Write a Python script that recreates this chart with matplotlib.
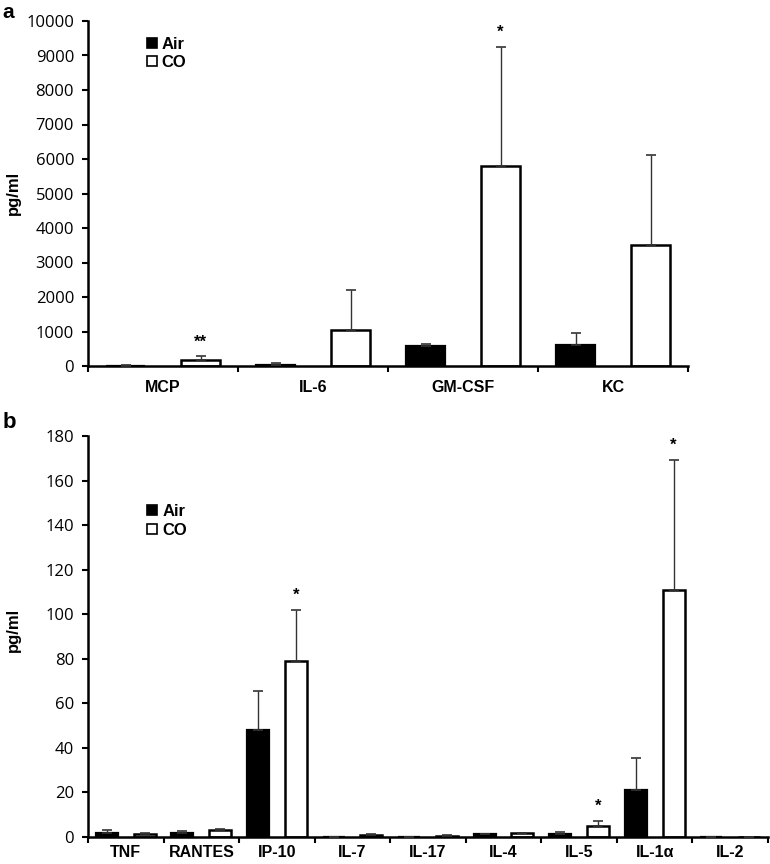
import numpy as np
import matplotlib
matplotlib.use("Agg")
import matplotlib.pyplot as plt
from matplotlib.lines import Line2D

# ---------------- data ----------------
cats_a = ["MCP", "IL-6", "GM-CSF", "KC"]
air_a = [10, 40, 570, 600]
air_a_err = [5, 50, 60, 350]
co_a = [185, 1035, 5800, 3520]
co_a_err = [95, 1165, 3450, 2590]
stars_a = ["**", "", "*", ""]          # significance marks over CO bars

cats_b = ["TNF", "RANTES", "IP-10", "IL-7", "IL-17", "IL-4", "IL-5", "IL-1α", "IL-2"]
air_b = [2.0, 2.0, 48.2, 0.2, 0.2, 1.5, 1.5, 21.2, 0.1]
air_b_err = [1.3, 0.5, 17.3, 0.0, 0.0, 0.0, 0.8, 14.3, 0.0]
co_b = [1.5, 3.0, 79.1, 1.0, 0.5, 1.8, 4.8, 110.8, 0.1]
co_b_err = [0.5, 0.8, 22.8, 0.3, 0.2, 0.0, 2.6, 58.5, 0.0]
stars_b = ["", "", "*", "", "", "", "*", "*", ""]

yticks_a = list(range(0, 10001, 1000))
yticks_b = list(range(0, 181, 20))

# ---------------- style ----------------
W, H = 770, 864
fig = plt.figure(figsize=(W / 100, H / 100), dpi=100)

LBL_FONT = "Liberation Sans"
TICK_FONT = "Open Sans"


def panel(ax, cats, air, air_err, co, co_err, stars, yticks, ymax, width,
          legend_xy, label_pad):
    n = len(cats)
    x_air = np.arange(n) * 2
    x_co = x_air + 1
    ax.bar(x_air, air, width=width, color="black", edgecolor="black",
           linewidth=1.6, zorder=2)
    ax.bar(x_co, co, width=width, color="white", edgecolor="black",
           linewidth=1.8, zorder=2)
    ek = dict(fmt="none", ecolor="#333333", elinewidth=1.0, capsize=3.5,
              capthick=1.2, zorder=3)
    ax.errorbar(x_air, air, yerr=[np.zeros(n), air_err], **ek)
    ax.errorbar(x_co, co, yerr=[np.zeros(n), co_err], **ek)
    for xi, v, e, s in zip(x_co, co, co_err, stars):
        if s:
            ax.annotate(s, (xi, v + e), xytext=(0, 7), textcoords="offset pixels",
                        ha="center", va="bottom", fontsize=12, fontweight="bold",
                        family=LBL_FONT)
    ax.set_xlim(-0.5, 2 * n - 0.5)
    ax.set_ylim(0, ymax)
    ax.set_yticks(yticks)
    ax.set_yticklabels([str(t) for t in yticks], family=TICK_FONT, fontsize=12)
    # category labels at group centres (no tick mark)
    ax.set_xticks(x_air + 0.5)
    ax.set_xticklabels(cats, family=LBL_FONT, fontweight="bold", fontsize=11.5)
    ax.tick_params(axis="x", which="major", length=0, pad=label_pad)
    # tick marks at slot boundaries
    ax.set_xticks(np.arange(-0.5, 2 * n, 1.0), minor=True)
    ax.tick_params(axis="x", which="minor", direction="out", length=4, width=1.5)
    ax.tick_params(axis="y", direction="out", length=4, width=1.5, pad=6)
    for sp in ["top", "right"]:
        ax.spines[sp].set_visible(False)
    for sp in ["left", "bottom"]:
        ax.spines[sp].set_linewidth(1.8)
    handles = [Line2D([], [], marker="s", linestyle="none", markersize=7,
                      markerfacecolor="black", markeredgecolor="black",
                      markeredgewidth=1.2),
               Line2D([], [], marker="s", linestyle="none", markersize=7,
                      markerfacecolor="white", markeredgecolor="black",
                      markeredgewidth=1.2)]
    ax.legend(handles, ["Air", "CO"], loc="upper left", bbox_to_anchor=legend_xy,
              frameon=False, handlelength=0.8, handletextpad=0.2,
              labelspacing=0.2, borderpad=0, borderaxespad=0,
              prop={"family": LBL_FONT, "weight": "bold", "size": 12})


# panel a: axes from x=88..688, y=21..366 px
ax_a = fig.add_axes([88 / W, 1 - 366 / H, 600 / W, 345 / H])
panel(ax_a, cats_a, air_a, air_a_err, co_a, co_a_err, stars_a, yticks_a, 10000,
      0.52, (0.095, 0.955), 10)

# panel b: axes from x=88..768, y=436..837 px
ax_b = fig.add_axes([88 / W, 1 - 837 / H, 680 / W, 401 / H])
panel(ax_b, cats_b, air_b, air_b_err, co_b, co_b_err, stars_b, yticks_b, 180,
      0.58, (0.085, 0.83), 6)

fig.text(13 / W, 1 - 193 / H, "pg/ml", rotation=90, ha="center", va="center",
         family=LBL_FONT, fontweight="bold", fontsize=12)
fig.text(13 / W, 1 - 630 / H, "pg/ml", rotation=90, ha="center", va="center",
         family=LBL_FONT, fontweight="bold", fontsize=12)
fig.text(2 / W, 1 - 18 / H, "a", ha="left", va="baseline",
         family=LBL_FONT, fontweight="bold", fontsize=15)
fig.text(3 / W, 1 - 428 / H, "b", ha="left", va="baseline",
         family=LBL_FONT, fontweight="bold", fontsize=16)

fig.savefig("out.png", dpi=100, facecolor="white")
